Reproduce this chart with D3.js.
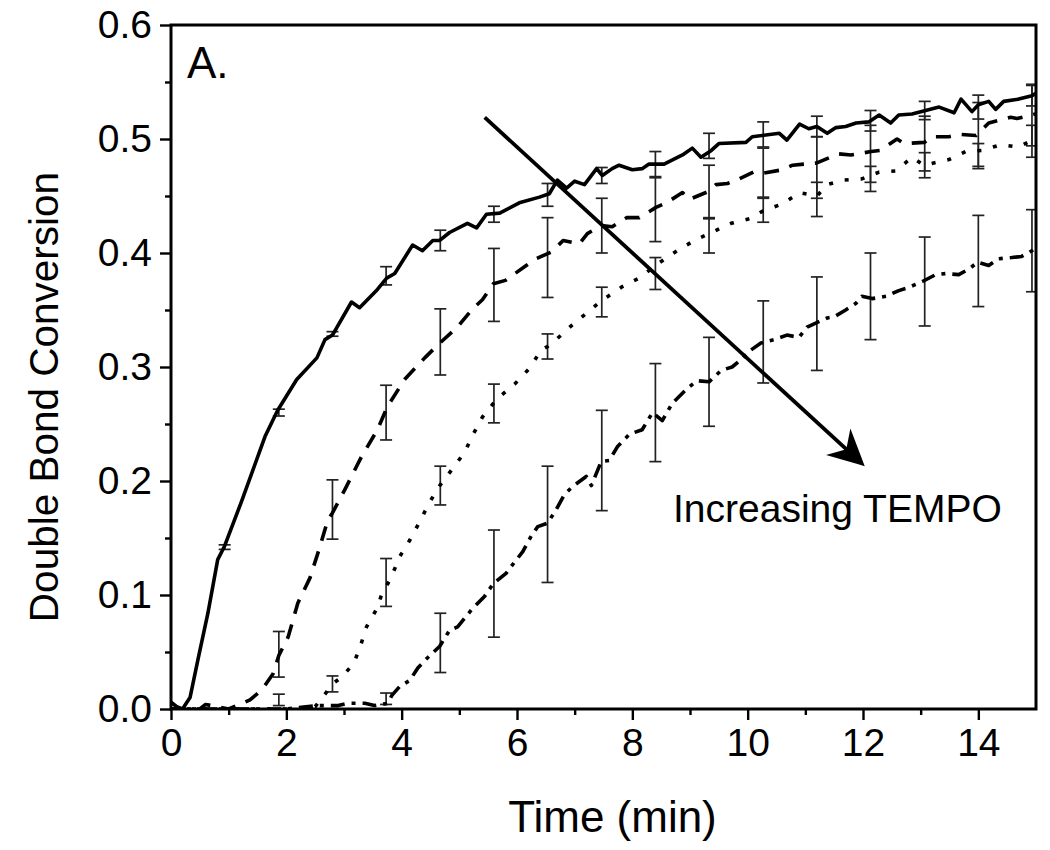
<!DOCTYPE html>
<html>
<head>
<meta charset="utf-8">
<script src="https://cdn.jsdelivr.net/npm/d3@7"></script>
<style>
  body { margin: 0; background: #fff; }
  text { font-family: "Liberation Sans", Arial, sans-serif; fill: #000; }
</style>
</head>
<body>
<script>
//Declare const variables
const width = 1050;
const height = 850;
const plotLeft = 171, plotRight = 1036, plotTop = 25, plotBottom = 709;

//Data
const xTicks = [0, 2, 4, 6, 8, 10, 12, 14];
const yTicks = [0.0, 0.1, 0.2, 0.3, 0.4, 0.5, 0.6];

//Solid series (no TEMPO)
const s1Time = [0, 0.1, 0.2, 0.33, 0.47, 0.64, 0.81, 0.93, 1.23, 1.63, 1.85, 2.18, 2.53, 2.67, 2.8, 3.13, 3.27, 3.58, 3.74, 3.88, 4.19, 4.36, 4.54, 4.66, 4.83, 5.14, 5.3, 5.47, 5.7, 6.04, 6.39, 6.56, 6.7, 6.86, 7.0, 7.17, 7.38, 7.48, 7.65, 7.77, 8.0, 8.17, 8.29, 8.55, 8.87, 9.04, 9.19, 9.37, 9.5, 9.97, 10.08, 10.55, 10.68, 10.9, 11.06, 11.2, 11.38, 11.53, 11.7, 11.88, 12.1, 12.28, 12.48, 12.62, 12.85, 13.32, 13.58, 13.7, 13.89, 14.0, 14.18, 14.3, 14.44, 14.7, 14.93, 15.0];
const s1Conv = [0.006, 0.002, 0.0, 0.01, 0.044, 0.084, 0.131, 0.143, 0.183, 0.239, 0.262, 0.289, 0.308, 0.324, 0.328, 0.357, 0.352, 0.368, 0.378, 0.382, 0.407, 0.402, 0.411, 0.411, 0.418, 0.426, 0.422, 0.434, 0.435, 0.444, 0.449, 0.452, 0.464, 0.457, 0.463, 0.46, 0.474, 0.468, 0.474, 0.477, 0.473, 0.474, 0.478, 0.478, 0.486, 0.492, 0.484, 0.49, 0.496, 0.497, 0.502, 0.505, 0.499, 0.513, 0.509, 0.511, 0.505, 0.51, 0.511, 0.514, 0.515, 0.521, 0.514, 0.521, 0.522, 0.528, 0.523, 0.535, 0.524, 0.53, 0.533, 0.526, 0.533, 0.535, 0.538, 0.54];

//Dashed series
const s2Time = [0, 0.5, 0.6, 1.0, 1.37, 1.58, 1.77, 1.87, 2.03, 2.2, 2.41, 2.58, 2.72, 2.8, 3.01, 3.3, 3.58, 3.75, 4.05, 4.4, 4.62, 4.88, 5.0, 5.23, 5.4, 5.59, 5.8, 6.16, 6.33, 6.6, 6.8, 7.08, 7.22, 7.46, 7.65, 7.9, 8.12, 8.41, 8.59, 8.87, 8.99, 9.32, 9.45, 9.65, 9.85, 10.1, 10.27, 10.6, 10.78, 11.2, 11.58, 11.79, 12.14, 12.3, 12.59, 12.71, 13.06, 13.2, 13.49, 13.7, 13.96, 14.18, 14.56, 14.67, 15.0];
const s2Conv = [0.0, 0.0, 0.004, 0.0, 0.008, 0.017, 0.031, 0.047, 0.063, 0.093, 0.115, 0.142, 0.166, 0.172, 0.192, 0.221, 0.245, 0.265, 0.289, 0.308, 0.319, 0.331, 0.337, 0.351, 0.359, 0.373, 0.376, 0.389, 0.395, 0.401, 0.411, 0.408, 0.417, 0.424, 0.423, 0.431, 0.431, 0.44, 0.444, 0.453, 0.447, 0.454, 0.46, 0.461, 0.465, 0.471, 0.47, 0.473, 0.477, 0.479, 0.487, 0.486, 0.489, 0.49, 0.5, 0.496, 0.497, 0.502, 0.502, 0.504, 0.503, 0.514, 0.519, 0.518, 0.522];

//Dotted series
const s3Time = [0, 1.0, 2.0, 2.5, 2.7, 2.8, 2.96, 3.17, 3.29, 3.39, 3.57, 3.67, 3.76, 3.83, 3.97, 4.14, 4.31, 4.48, 4.66, 4.87, 5.09, 5.23, 5.4, 5.59, 5.7, 5.96, 6.22, 6.42, 6.53, 6.7, 6.96, 7.2, 7.46, 7.81, 8.12, 8.4, 8.6, 8.87, 9.12, 9.33, 9.71, 10.03, 10.27, 10.6, 10.9, 11.2, 11.38, 11.67, 11.98, 12.28, 12.57, 12.85, 13.06, 13.49, 13.78, 14.06, 14.39, 14.7, 14.93, 15.0];
const s3Conv = [0.0, 0.0, 0.0, 0.002, 0.015, 0.022, 0.028, 0.04, 0.056, 0.072, 0.088, 0.103, 0.11, 0.117, 0.134, 0.148, 0.164, 0.181, 0.196, 0.21, 0.225, 0.24, 0.256, 0.268, 0.274, 0.285, 0.299, 0.315, 0.318, 0.325, 0.337, 0.347, 0.358, 0.37, 0.378, 0.389, 0.396, 0.405, 0.412, 0.417, 0.426, 0.43, 0.437, 0.443, 0.453, 0.45, 0.46, 0.464, 0.465, 0.471, 0.472, 0.484, 0.477, 0.482, 0.489, 0.49, 0.495, 0.493, 0.499, 0.5];

//Dash-dot series (most TEMPO)
const s4Time = [0, 1.0, 2.0, 2.55, 2.9, 3.07, 3.36, 3.53, 3.76, 3.83, 3.97, 4.14, 4.28, 4.45, 4.66, 4.83, 4.97, 5.21, 5.44, 5.59, 5.81, 5.96, 6.1, 6.25, 6.36, 6.53, 6.68, 6.82, 6.96, 7.2, 7.29, 7.46, 7.6, 7.74, 7.95, 8.17, 8.35, 8.52, 8.69, 8.93, 9.12, 9.33, 9.54, 9.73, 9.85, 10.06, 10.23, 10.46, 10.68, 10.89, 11.03, 11.2, 11.38, 11.5, 11.7, 11.88, 11.98, 12.16, 12.4, 12.62, 12.8, 13.03, 13.26, 13.44, 13.66, 13.84, 13.99, 14.18, 14.35, 14.58, 14.75, 14.93, 15.0];
const s4Conv = [0.0, 0.0, 0.0, 0.003, 0.003, 0.005, 0.005, 0.003, 0.005, 0.012, 0.02, 0.025, 0.036, 0.045, 0.055, 0.069, 0.072, 0.087, 0.099, 0.11, 0.119, 0.129, 0.138, 0.152, 0.16, 0.163, 0.175, 0.188, 0.195, 0.204, 0.196, 0.217, 0.218, 0.23, 0.241, 0.245, 0.26, 0.253, 0.268, 0.28, 0.288, 0.287, 0.297, 0.3, 0.305, 0.315, 0.321, 0.324, 0.328, 0.326, 0.335, 0.339, 0.343, 0.344, 0.35, 0.356, 0.362, 0.36, 0.362, 0.367, 0.37, 0.375, 0.381, 0.382, 0.381, 0.386, 0.392, 0.389, 0.395, 0.396, 0.397, 0.402, 0.405];

//Error bars (mean, half width) at these times
const errTime = [0.93, 1.87, 2.8, 3.73, 4.67, 5.6, 6.53, 7.47, 8.4, 9.33, 10.27, 11.2, 12.13, 13.07, 14.0, 14.93];
const s1Mean = [0.142, 0.26, 0.329, 0.38, 0.411, 0.434, 0.451, 0.468, 0.478, 0.494, 0.504, 0.511, 0.516, 0.525, 0.528, 0.538];
const s1Err = [0.002, 0.003, 0.002, 0.008, 0.009, 0.007, 0.01, 0.007, 0.011, 0.011, 0.011, 0.009, 0.009, 0.008, 0.0105, 0.009];
const s2Mean = [null, 0.048, 0.175, 0.26, 0.322, 0.372, 0.396, 0.424, 0.438, 0.454, 0.47, 0.475, 0.487, 0.496, 0.504, 0.521];
const s2Err = [null, 0.02, 0.026, 0.024, 0.029, 0.032, 0.035, 0.024, 0.028, 0.023, 0.022, 0.027, 0.025, 0.024, 0.028, 0.027];
const s3Mean = [null, 0.008, 0.022, 0.111, 0.196, 0.268, 0.318, 0.357, 0.382, 0.415, 0.438, 0.447, 0.465, 0.477, 0.485, 0.498];
const s3Err = [null, 0.005, 0.007, 0.021, 0.017, 0.017, 0.011, 0.013, 0.014, 0.015, 0.011, 0.015, 0.011, 0.011, 0.011, 0.014];
const s4Mean = [null, null, null, 0.009, 0.058, 0.11, 0.162, 0.218, 0.26, 0.287, 0.322, 0.338, 0.362, 0.375, 0.393, 0.402];
const s4Err = [null, null, null, 0.005, 0.026, 0.047, 0.051, 0.044, 0.043, 0.039, 0.036, 0.041, 0.038, 0.039, 0.04, 0.036];

//Arrow (data coords) and labels
const arrowFrom = [5.44, 0.519];
const arrowTo = [12.03, 0.213];
const annotation = "Increasing TEMPO";
const panelLabel = "A.";

//Scales
const xScale = d3.scaleLinear().domain([0, 15]).range([plotLeft, plotRight]);
const yScale = d3.scaleLinear().domain([0, 0.6]).range([plotBottom, plotTop]);

//SVG
const svg = d3.select("body")
    .append("svg")
    .attr("width", width)
    .attr("height", height);

svg.append("defs").append("clipPath")
    .attr("id", "plotclip")
    .append("rect")
    .attr("x", plotLeft).attr("y", plotTop)
    .attr("width", plotRight - plotLeft).attr("height", plotBottom - plotTop);

const plot = svg.append("g").attr("clip-path", "url(#plotclip)");

//Series table
const series = [
    { time: s1Time, conv: s1Conv, mean: s1Mean, err: s1Err, dash: null },
    { time: s2Time, conv: s2Conv, mean: s2Mean, err: s2Err, dash: "15,11" },
    { time: s3Time, conv: s3Conv, mean: s3Mean, err: s3Err, dash: "4,12" },
    { time: s4Time, conv: s4Conv, mean: s4Mean, err: s4Err, dash: "14,7,4,7" }
];

//Error bars
const capW = 6;
series.forEach(s => {
    const bars = errTime.map((t, i) => ({ t: t, m: s.mean[i], e: s.err[i] }))
        .filter(d => d.m !== null);
    const g = plot.append("g")
        .attr("stroke", "#222")
        .attr("stroke-width", 1.7);
    bars.forEach(d => {
        const x = xScale(d.t);
        const y1 = yScale(d.m + d.e), y2 = yScale(d.m - d.e);
        g.append("line").attr("x1", x).attr("x2", x).attr("y1", y1).attr("y2", y2);
        g.append("line").attr("x1", x - capW).attr("x2", x + capW).attr("y1", y1).attr("y2", y1);
        g.append("line").attr("x1", x - capW).attr("x2", x + capW).attr("y1", y2).attr("y2", y2);
    });
});

//Lines
const line = d3.line()
    .x(d => xScale(d[0]))
    .y(d => yScale(d[1]));

series.forEach(s => {
    plot.append("path")
        .datum(s.time.map((t, i) => [t, s.conv[i]]))
        .attr("d", line)
        .attr("fill", "none")
        .attr("stroke", "#000")
        .attr("stroke-width", 3.6)
        .attr("stroke-linejoin", "round")
        .attr("stroke-dasharray", s.dash);
});

//Axes
const bottomAxis = d3.axisBottom(xScale).tickValues(xTicks).tickSize(11).tickPadding(8).tickFormat(d3.format("d"));
const bottomMinor = d3.axisBottom(xScale).tickValues(d3.range(1, 15, 2)).tickSize(6).tickFormat("");
const leftAxis = d3.axisLeft(yScale).tickValues(yTicks).tickSize(11).tickPadding(8).tickFormat(d3.format(".1f"));
const leftMinor = d3.axisLeft(yScale).tickValues([0.05, 0.15, 0.25, 0.35, 0.45, 0.55]).tickSize(6).tickFormat("");

function styleAxis(g) {
    g.select(".domain").remove();
    g.selectAll("line").attr("stroke", "#000").attr("stroke-width", 2.4);
    g.selectAll("text").style("font-size", "39px").style("font-family", "Liberation Sans, Arial, sans-serif");
}

svg.append("g").attr("transform", "translate(0," + plotBottom + ")").call(bottomMinor).call(styleAxis);
svg.append("g").attr("transform", "translate(0," + plotBottom + ")").call(bottomAxis).call(styleAxis);
svg.append("g").attr("transform", "translate(" + plotLeft + ",0)").call(leftMinor).call(styleAxis);
svg.append("g").attr("transform", "translate(" + plotLeft + ",0)").call(leftAxis).call(styleAxis);

//Frame
svg.append("rect")
    .attr("x", plotLeft).attr("y", plotTop)
    .attr("width", plotRight - plotLeft).attr("height", plotBottom - plotTop)
    .attr("fill", "none")
    .attr("stroke", "#000")
    .attr("stroke-width", 3);

//Axis titles
svg.append("text")
    .attr("x", (plotLeft + plotRight) / 2 + 9)
    .attr("y", 832)
    .attr("text-anchor", "middle")
    .style("font-size", "44px")
    .text("Time (min)");

svg.append("text")
    .attr("transform", "translate(58," + 397 + ") rotate(-90)")
    .attr("text-anchor", "middle")
    .style("font-size", "40.5px")
    .text("Double Bond Conversion");

//Panel label
svg.append("text")
    .attr("x", 187)
    .attr("y", 78)
    .style("font-size", "44px")
    .text(panelLabel);

//Arrow
const ax1 = xScale(arrowFrom[0]), ay1 = yScale(arrowFrom[1]);
const ax2 = xScale(arrowTo[0]), ay2 = yScale(arrowTo[1]);
const ang = Math.atan2(ay2 - ay1, ax2 - ax1) * 180 / Math.PI;

svg.append("line")
    .attr("x1", ax1).attr("y1", ay1)
    .attr("x2", ax2 - 24 * Math.cos(ang * Math.PI / 180))
    .attr("y2", ay2 - 24 * Math.sin(ang * Math.PI / 180))
    .attr("stroke", "#000")
    .attr("stroke-width", 3.8);

svg.append("path")
    .attr("transform", "translate(" + ax2 + "," + ay2 + ") rotate(" + ang + ")")
    .attr("d", "M0,0 Q-16,8 -36,18 L-25,0 L-36,-18 Q-16,-8 0,0 Z")
    .attr("fill", "#000");

svg.append("text")
    .attr("x", 673)
    .attr("y", 522)
    .style("font-size", "39px")
    .text(annotation);
</script>
</body>
</html>
